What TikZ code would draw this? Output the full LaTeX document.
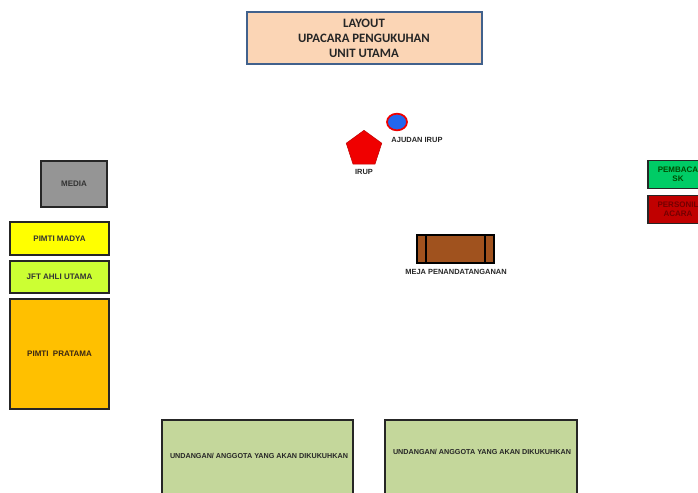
\documentclass[tikz,border=0pt]{standalone}
\usepackage{fontspec}
\setmainfont{Liberation Sans}
\newfontfamily\titlefont{Carlito}
\usetikzlibrary{shapes.geometric}
\definecolor{peach}{HTML}{FBD5B5}
\definecolor{titleedge}{HTML}{41618C}
\definecolor{mediagray}{HTML}{959595}
\definecolor{madya}{HTML}{FFFF00}
\definecolor{jft}{HTML}{CCFF33}
\definecolor{pratama}{HTML}{FFC000}
\definecolor{guest}{HTML}{C4D79B}
\definecolor{reader}{HTML}{00CC66}
\definecolor{crew}{HTML}{C00000}
\definecolor{table}{HTML}{A0521E}
\definecolor{irup}{HTML}{F00000}
\definecolor{aide}{HTML}{2266EE}
\tikzset{
  seat/.style={draw=black!85, line width=0.9pt, inner sep=0pt, font=\fontsize{6}{7}\selectfont\bfseries, text=black!80},
  caption/.style={font=\fontsize{5.6}{6.5}\selectfont\bfseries, text=black!85, inner sep=0pt},
  guestcap/.style={caption, font=\fontsize{5.4}{6.5}\selectfont\bfseries},
}
\begin{document}
\begin{tikzpicture}[x=0.75pt,y=-0.75pt]
\clip (0,0) rectangle (698,492);
\fill[white] (0,0) rectangle (698,492);

% title
\node[draw=titleedge, line width=1.5pt, fill=peach, minimum width=176.25pt, minimum height=39pt, align=center,
      font=\titlefont\fontsize{9.6}{11.2}\selectfont\bfseries, text=black!85] (title) at (364,38)
  {LAYOUT\\UPACARA PENGUKUHAN\\UNIT UTAMA};

% officiant and aide
\node[regular polygon, regular polygon sides=5, fill=irup, draw=irup!80!black, line width=0.4pt,
      minimum size=28pt, inner sep=0pt] (irup) at (364,149) {};
\node[caption] (irupl) at (364,172) {IRUP};
\node[ellipse, fill=aide, draw=irup, line width=1.3pt, minimum width=15pt, minimum height=12.5pt, inner sep=0pt] (ajudan) at (397,122) {};
\node[caption] (ajudanl) at (417,140) {AJUDAN IRUP};

% signing table
\node[draw=black, line width=1.3pt, fill=table, minimum width=57.75pt, minimum height=21pt, inner sep=0pt] (meja) at (455.5,249) {};
\draw[line width=1.3pt] ([xshift=7.5pt]meja.north west) -- ([xshift=7.5pt]meja.south west);
\draw[line width=1.3pt] ([xshift=-7.5pt]meja.north east) -- ([xshift=-7.5pt]meja.south east);
\node[caption] (mejal) at (456,272) {MEJA PENANDATANGANAN};

% right side
\node[seat, fill=reader, text=green!30!black, minimum width=45pt, minimum height=21pt, align=center] (pembaca) at (678,174.5) {PEMBACA\\SK};
\node[seat, fill=crew, text=red!45!black, minimum width=45pt, minimum height=21pt, align=center] (personil) at (678,209.5) {PERSONIL\\ACARA};

% left side
\node[seat, fill=mediagray, minimum width=49.5pt, minimum height=34.5pt] (media) at (74,184) {MEDIA};
\node[seat, fill=madya, minimum width=74.25pt, minimum height=24.75pt] (madya) at (59.5,238.5) {PIMTI MADYA};
\node[seat, fill=jft, minimum width=74.25pt, minimum height=24pt] (jft) at (59.5,277) {JFT AHLI UTAMA};
\node[seat, fill=pratama, text=black!70!brown, minimum width=74.25pt, minimum height=82.5pt] (pratama) at (59.5,354) {PIMTI\ \ PRATAMA};

% guests
\node[seat, fill=guest, minimum width=143.25pt, minimum height=60pt] (tamu1) at (257.5,460) {};
\node[guestcap] (tamu1l) at (259,456) {UNDANGAN/ ANGGOTA YANG AKAN DIKUKUHKAN};
\node[seat, fill=guest, minimum width=144pt, minimum height=60pt] (tamu2) at (481,460) {};
\node[guestcap] (tamu2l) at (482,452) {UNDANGAN/ ANGGOTA YANG AKAN DIKUKUHKAN};
\end{tikzpicture}
\end{document}
